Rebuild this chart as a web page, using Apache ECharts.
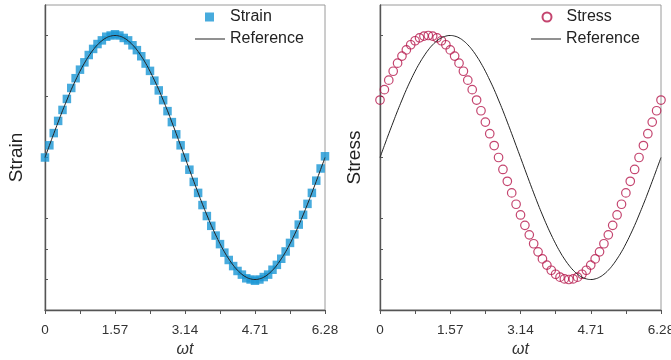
<!DOCTYPE html>
<html>
<head>
<meta charset="utf-8">
<script src="https://cdn.jsdelivr.net/npm/echarts@6/dist/echarts.min.js"></script>
<style>html,body{margin:0;padding:0;background:#fff}#c{width:671px;height:360px}</style>
</head>
<body>
<div id="c"></div>
<script>
// phase angle ωt (rad)
const wt = [0,0.098,0.196,0.295,0.393,0.491,0.589,0.687,0.785,0.884,0.982,1.080,1.178,1.276,1.374,1.473,1.571,
  1.669,1.767,1.865,1.963,2.062,2.160,2.258,2.356,2.454,2.553,2.651,2.749,2.847,2.945,3.043,3.142,
  3.240,3.338,3.436,3.534,3.632,3.731,3.829,3.927,4.025,4.123,4.222,4.320,4.418,4.516,4.614,4.712,
  4.811,4.909,5.007,5.105,5.203,5.301,5.400,5.498,5.596,5.694,5.792,5.890,5.989,6.087,6.185,6.283];
// reference curve
const reference = [0,0.098,0.195,0.290,0.383,0.471,0.556,0.634,0.707,0.773,0.831,0.882,0.924,0.957,0.981,0.995,1,
  0.995,0.981,0.957,0.924,0.882,0.831,0.773,0.707,0.634,0.556,0.471,0.383,0.290,0.195,0.098,0,
  -0.098,-0.195,-0.290,-0.383,-0.471,-0.556,-0.634,-0.707,-0.773,-0.831,-0.882,-0.924,-0.957,-0.981,-0.995,-1,
  -0.995,-0.981,-0.957,-0.924,-0.882,-0.831,-0.773,-0.707,-0.634,-0.556,-0.471,-0.383,-0.290,-0.195,-0.098,0];
// measured strain (in phase)
const strain = [0,0.10,0.20,0.30,0.39,0.48,0.57,0.65,0.72,0.78,0.84,0.89,0.93,0.96,0.99,1.00,1.01,
  1.00,0.98,0.96,0.92,0.88,0.83,0.77,0.71,0.63,0.55,0.47,0.38,0.29,0.19,0.10,0,
  -0.10,-0.20,-0.29,-0.39,-0.48,-0.56,-0.64,-0.71,-0.78,-0.84,-0.89,-0.93,-0.96,-0.99,-1.00,-1.01,
  -1.00,-0.98,-0.96,-0.92,-0.88,-0.83,-0.77,-0.70,-0.63,-0.55,-0.47,-0.38,-0.29,-0.19,-0.09,0.01];
// measured stress (leads strain)
const stress = [0.471,0.556,0.634,0.707,0.773,0.831,0.882,0.924,0.957,0.981,0.995,1,
  0.995,0.981,0.957,0.924,0.882,0.831,0.773,0.707,0.634,0.556,0.471,0.383,0.290,0.195,0.098,0,
  -0.098,-0.195,-0.290,-0.383,-0.471,-0.556,-0.634,-0.707,-0.773,-0.831,-0.882,-0.924,-0.957,-0.981,-0.995,-1,
  -0.995,-0.981,-0.957,-0.924,-0.882,-0.831,-0.773,-0.707,-0.634,-0.556,-0.471,-0.383,-0.290,-0.195,-0.098,0,
  0.098,0.195,0.290,0.383,0.471];
const xTicks = [0,1.57,3.14,4.71,6.28];
const yTicks = [1,0.5,0,-0.5,-0.75,-1];

const pair = (ys) => wt.map((x,i)=>[x, ys[i]]);
const font = 'Liberation Sans, Arial, Helvetica, sans-serif';

function xAxisDef(gi){
  return {
    type:'value', gridIndex:gi, min:0, max:6.2832, interval:1.5708,
    name:'ωt', nameLocation:'middle', nameGap:27,
    nameTextStyle:{fontFamily:font, fontSize:16, fontStyle:'italic', color:'#333'},
    axisLine:{show:true, onZero:false, lineStyle:{color:'#555', width:1.4}},
    axisTick:{show:true, inside:false, length:4, lineStyle:{color:'#555', width:1}},
    minorTick:{show:true, splitNumber:2, length:4, lineStyle:{color:'#555', width:1}},
    axisLabel:{fontFamily:font, fontSize:13.5, color:'#333', margin:13,
      formatter:(v)=>{ const i = Math.round(v/1.5708); return String(xTicks[i]); }},
    splitLine:{show:false}
  };
}
function yAxisDef(gi, name, gap){
  return {
    type:'value', gridIndex:gi, min:-1.25, max:1.25,
    name:name, nameLocation:'middle', nameGap:gap, nameRotate:90,
    nameTextStyle:{fontFamily:font, fontSize:19, color:'#222'},
    axisLine:{show:true, onZero:false, lineStyle:{color:'#555', width:1.4}},
    axisTick:{show:true, inside:true, length:3, customValues:yTicks, lineStyle:{color:'#555'}},
    axisLabel:{show:false},
    splitLine:{show:false}
  };
}
const legText = {fontFamily:font, fontSize:16, color:'#222'};

const chart = echarts.init(document.getElementById('c'), null, {renderer:'canvas'});
chart.setOption({
  animation:false,
  backgroundColor:'#fff',
  grid:[
    {left:45, top:5, width:280, height:305, show:true, borderColor:'#9a9a9a', borderWidth:1,
     outerBoundsMode:'none', containLabel:false},
    {left:380, top:5, width:281, height:305, show:true, borderColor:'#9a9a9a', borderWidth:1,
     outerBoundsMode:'none', containLabel:false}
  ],
  xAxis:[xAxisDef(0), xAxisDef(1)],
  yAxis:[yAxisDef(0,'Strain',19), yAxisDef(1,'Stress',16)],
  legend:[
    {left:200, top:4, itemWidth:9, itemHeight:9, icon:'rect', data:['Strain'],
     textStyle:Object.assign({padding:[0,0,0,11]}, legText), selectedMode:false},
    {left:190, top:26, itemWidth:30, itemHeight:1, icon:'rect', data:['Reference'],
     itemStyle:{color:'#222'},
     textStyle:Object.assign({padding:[0,0,0,0]}, legText), selectedMode:false},
    {left:536.5, top:4, itemWidth:9, itemHeight:9, icon:'circle', data:['Stress'],
     textStyle:Object.assign({padding:[0,0,0,10]}, legText), selectedMode:false},
    {left:526, top:26, itemWidth:30, itemHeight:1, icon:'rect', data:['Reference'],
     itemStyle:{color:'#222'},
     textStyle:Object.assign({padding:[0,0,0,0]}, legText), selectedMode:false}
  ],
  series:[
    {name:'Strain', type:'scatter', xAxisIndex:0, yAxisIndex:0, data:pair(strain),
     symbol:'rect', symbolSize:8.5, itemStyle:{color:'#1996d4'}, z:2},
    {name:'Reference', type:'line', xAxisIndex:0, yAxisIndex:0, data:pair(reference),
     symbol:'none', smooth:true, lineStyle:{color:'#222', width:1}, itemStyle:{color:'#222'}, z:3},
    {name:'Stress', type:'scatter', xAxisIndex:1, yAxisIndex:1, data:pair(stress),
     symbol:'circle', symbolSize:8.5,
     itemStyle:{color:'rgba(0,0,0,0)', borderColor:'#b5174b', borderWidth:1.2}, z:2},
    {name:'Reference', type:'line', xAxisIndex:1, yAxisIndex:1, data:pair(reference),
     symbol:'none', smooth:true, lineStyle:{color:'#222', width:1}, itemStyle:{color:'#222'}, z:3}
  ]
});
</script>
</body>
</html>
